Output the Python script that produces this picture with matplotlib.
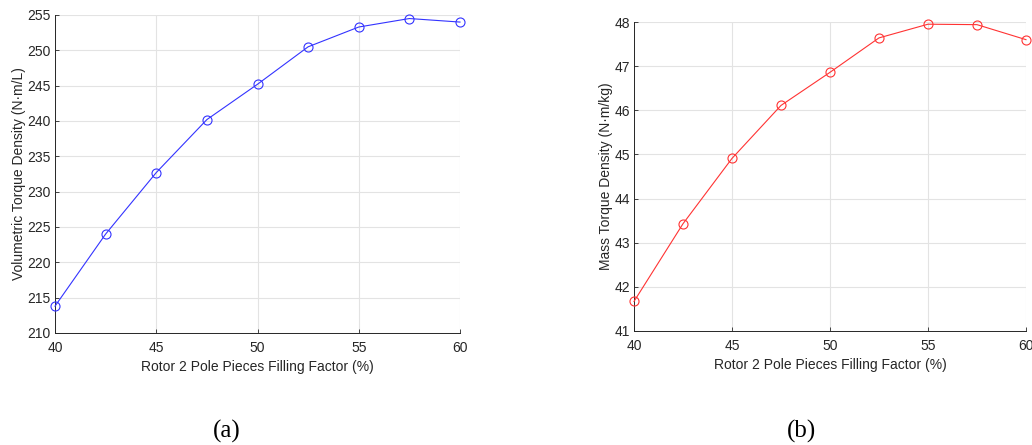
import matplotlib.pyplot as plt

fill_factor = [40, 42.5, 45, 47.5, 50, 52.5, 55, 57.5, 60]
vol_density = [213.8, 224.0, 232.7, 240.2, 245.2, 250.5, 253.3, 254.5, 254.0]
mass_density = [41.67, 43.43, 44.91, 46.11, 46.86, 47.64, 47.95, 47.94, 47.60]

plt.rcParams['font.family'] = ['Liberation Sans', 'DejaVu Sans']
W, H = 1032, 445
fig = plt.figure(figsize=(W / 100, H / 100), dpi=100)

# axes boxes in pixels: left, top, right, bottom
ax1 = fig.add_axes([55 / W, 1 - 333 / H, (460 - 55) / W, (333 - 15) / H])
ax2 = fig.add_axes([634 / W, 1 - 331 / H, (1026 - 634) / W, (331 - 22) / H])

def style(ax, ylim, yticks, ylabel, color, y):
    ax.plot(fill_factor, y, '-o', color=color, lw=0.8, ms=6.5, mfc='none',
            mew=0.8, clip_on=False, zorder=5)
    ax.set_xlim(40, 60)
    ax.set_ylim(*ylim)
    ax.set_xticks([40, 45, 50, 55, 60])
    ax.set_yticks(yticks)
    ax.grid(True, color='#e3e3e3', lw=0.8)
    ax.set_axisbelow(True)
    for s in ['top', 'right']:
        ax.spines[s].set_visible(False)
    for s in ['left', 'bottom']:
        ax.spines[s].set_color('#262626')
        ax.spines[s].set_linewidth(0.7)
    ax.tick_params(direction='in', length=3, width=0.6, labelsize=10,
                   colors='#262626', pad=3)
    ax.tick_params(axis='x', pad=6)
    ax.set_xlabel('Rotor 2 Pole Pieces Filling Factor (%)', fontsize=10,
                  color='#262626', labelpad=3)
    ax.set_ylabel(ylabel, fontsize=10, color='#262626', labelpad=1)

style(ax1, (210, 255), range(210, 256, 5), 'Volumetric Torque Density (N·m/L)',
      '#3333ff', vol_density)
style(ax2, (41, 48), range(41, 49), 'Mass Torque Density (N·m/kg)',
      '#ff3333', mass_density)

fig.text(227 / W, 1 - 431 / H, '(a)', family='Liberation Serif', fontsize=18,
         ha='center', va='center')
fig.text(802 / W, 1 - 431 / H, '(b)', family='Liberation Serif', fontsize=18,
         ha='center', va='center')

fig.savefig('out.png', dpi=100)
